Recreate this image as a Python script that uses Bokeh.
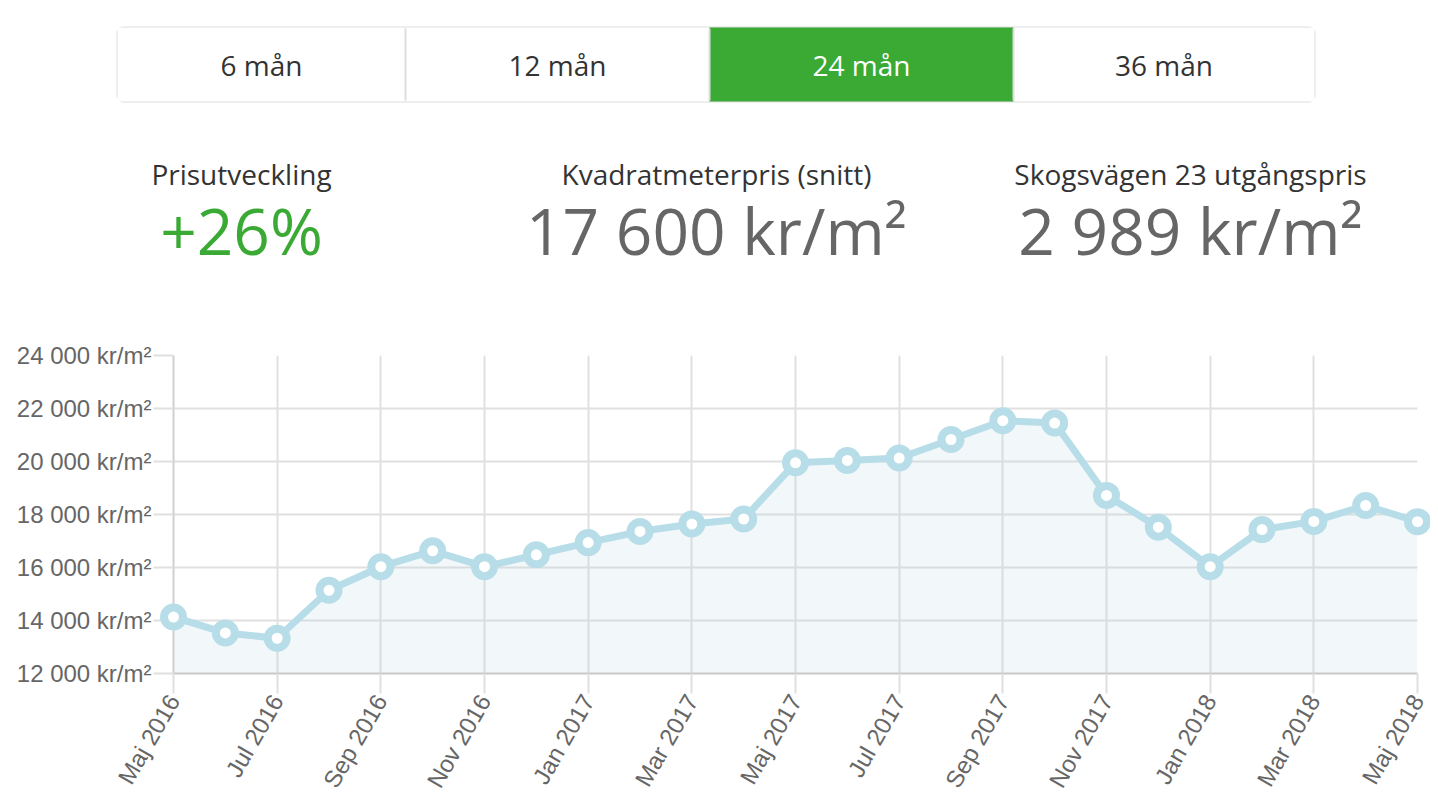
from bokeh.plotting import figure
from bokeh.models import Range1d, FixedTicker, ColumnDataSource, Quad
from bokeh.layouts import column
from bokeh.core.properties import value
from bokeh.embed import file_html
from bokeh.resources import INLINE

# ---------------- data ----------------
months = ["Maj 2016", "Jun 2016", "Jul 2016", "Aug 2016", "Sep 2016", "Okt 2016",
          "Nov 2016", "Dec 2016", "Jan 2017", "Feb 2017", "Mar 2017", "Apr 2017",
          "Maj 2017", "Jun 2017", "Jul 2017", "Aug 2017", "Sep 2017", "Okt 2017",
          "Nov 2017", "Dec 2017", "Jan 2018", "Feb 2018", "Mar 2018", "Apr 2018",
          "Maj 2018"]
prices = [14130, 13530, 13330, 15140, 16030, 16630, 16030, 16480, 16940, 17360,
          17640, 17830, 19950, 20040, 20130, 20830, 21540, 21450, 18720, 17520,
          16030, 17430, 17740, 18340, 17730]
y_ticks = [12000, 14000, 16000, 18000, 20000, 22000, 24000]
y_tick_labels = ["12 000 kr/m²", "14 000 kr/m²", "16 000 kr/m²", "18 000 kr/m²",
                 "20 000 kr/m²", "22 000 kr/m²", "24 000 kr/m²"]
button_labels = ["6 mån", "12 mån", "24 mån", "36 mån"]
active_button = "24 mån"
stat_labels = ["Prisutveckling", "Kvadratmeterpris (snitt)", "Skogsvägen 23 utgångspris"]
stat_values = ["+26%", "17 600 kr/m²", "2 989 kr/m²"]

GREEN = "#3aaa35"
LINE = "#b7dde9"
GRID = "#e0e0e0"
BORDER = "#dddddd"

W = 1430
BL, BR = 173, 13          # frame borders shared by both figures
FX0, FX1 = BL, W - BR     # frame spans these page pixels

# ---------------- header ----------------
HH = 328
hdr = figure(width=W, height=HH, x_range=Range1d(FX0, FX1), y_range=Range1d(HH, 0),
             output_backend="svg", toolbar_location=None,
             min_border_left=BL, min_border_right=BR, min_border_top=0,
             min_border_bottom=0)
hdr.axis.visible = False
hdr.grid.visible = False
hdr.outline_line_color = None

btn_edges = [117, 405, 709, 1013, 1314]
bl = btn_edges[:-1]
br = btn_edges[1:]
BT, BB = 27, 101
fills = [GREEN if b == active_button else "#ffffff" for b in button_labels]
tcols = ["#ffffff" if b == active_button else "#333333" for b in button_labels]
bsrc = ColumnDataSource(dict(left=bl, right=br, top=[BT] * 4, bottom=[BB] * 4,
                             fill=fills, tc=tcols, txt=button_labels,
                             cx=[(a + b) / 2 for a, b in zip(bl, br)], cy=[64] * 4))
# outer rounded outline
outer_kw = dict(left=[bl[0]], right=[br[-1]], top=[BT], bottom=[BB],
                fill_color="white", line_color=BORDER, line_width=2, level="overlay")
if "border_radius" in Quad.properties():
    outer_kw["border_radius"] = 6
hdr.quad(**outer_kw)
# button fills
hdr.quad(left="left", right="right", top="top", bottom="bottom", source=bsrc,
         fill_color="fill", line_color=None, level="overlay")
# dividers
div_x = [e for e in btn_edges[1:-1]]
hdr.segment(x0=div_x, x1=div_x, y0=[BT + 1] * len(div_x), y1=[BB - 1] * len(div_x),
            line_color=BORDER, line_width=2, level="overlay")
hdr.text(x="cx", y="cy", text="txt", source=bsrc, text_color="tc",
         text_font=value("Open Sans"), text_font_size="28px",
         text_align="center", text_baseline="middle", level="overlay")

scx = [241, 716, 1190]
ssrc = ColumnDataSource(dict(x=scx, ly=[173] * 3, vy=[230] * 3, lab=stat_labels,
                             val=stat_values, vc=[GREEN, "#666666", "#666666"]))
hdr.text(x="x", y="ly", text="lab", source=ssrc, text_color="#333333",
         text_font=value("Open Sans"), text_font_size="28px",
         text_align="center", text_baseline="middle", level="overlay")
hdr.text(x="x", y="vy", text="val", source=ssrc, text_color="vc",
         text_font=value("Open Sans"), text_font_size="64px",
         text_align="center", text_baseline="middle", level="overlay")

# ---------------- chart ----------------
x = list(range(len(months)))
src = ColumnDataSource(dict(x=x, y=prices, base=[y_ticks[0]] * len(x)))

p = figure(width=W, height=473, x_range=Range1d(0, len(months) - 1),
           y_range=Range1d(y_ticks[0], y_ticks[-1]),
           output_backend="svg", toolbar_location=None,
           min_border_left=BL, min_border_right=BR, min_border_top=27,
           min_border_bottom=127)
p.outline_line_color = None

p.varea(x="x", y1="base", y2="y", source=src, fill_color="#b8d4e6", fill_alpha=0.18)
p.line(x="x", y="y", source=src, line_color=LINE, line_width=7, level="overlay")
p.scatter(x="x", y="y", source=src, marker="circle", size=19, line_width=8,
          line_color=LINE, fill_color="white", level="overlay")

xt = x[::2]
p.xaxis.ticker = FixedTicker(ticks=xt)
p.xaxis.major_label_overrides = {i: months[i] for i in xt}
p.xaxis.major_label_orientation = 1.0472
p.yaxis.ticker = FixedTicker(ticks=y_ticks)
p.yaxis.major_label_overrides = {t: l for t, l in zip(y_ticks, y_tick_labels)}

for ax in (p.xaxis[0], p.yaxis[0]):
    ax.major_label_text_font = "Liberation Sans"
    ax.major_label_text_font_size = "24px"
    ax.major_label_text_color = "#666666"
    ax.major_tick_in = 0
    ax.major_tick_out = 20
    ax.major_tick_line_color = GRID
    ax.major_tick_line_width = 2
    ax.minor_tick_line_color = None
p.xaxis.major_label_standoff = 3
p.yaxis.major_label_standoff = 2
p.xaxis.axis_line_color = "#c8c8c8"
p.xaxis.axis_line_width = 2
p.yaxis.axis_line_color = "#d0d0d0"
p.yaxis.axis_line_width = 2

p.xgrid.ticker = FixedTicker(ticks=xt)
p.grid.grid_line_color = GRID
p.grid.grid_line_width = 2

layout = column(hdr, p)
open("out.html", "w").write(file_html(layout, INLINE))
